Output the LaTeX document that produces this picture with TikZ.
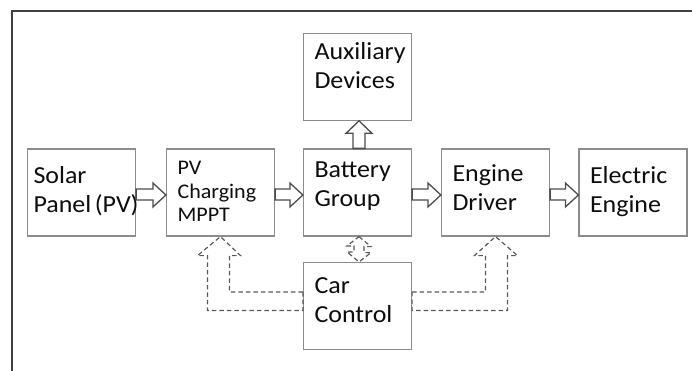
\documentclass[tikz,border=0pt]{standalone}
\usepackage{fontspec}
\setmainfont{Carlito}[FakeStretch = 1.06]
\usetikzlibrary{calc}

\tikzset{
	block/.style = {draw = black!45, line width = 1.2pt, minimum width = 108pt, minimum height = 87pt, text width = 86pt, inner xsep = 11pt, align = left, text = black!95, font = \fontsize{24.5}{29}\selectfont},
	drop/.style = {text height = 10pt, text depth = #1},
	blockarrow/.style = {draw = black!70, line width = 1.3pt, fill = white, line join = miter},
	ctrlarrow/.style = {draw = black!65, line width = 1.2pt, dash pattern = on 4.5pt off 3pt},
	frame/.style = {draw = black!75, line width = 1.8pt}
}

% hollow block arrow from the east side of #1 to the west side of #2
\newcommand{\flowarrow}[2]{%
	\draw [blockarrow] ($(#1.east) + (0, -3.5)$) -- ($(#2.west) + (-13, -3.5)$) -- ($(#2.west) + (-13, -9.5)$) -- ($(#2.west) + (0, 2.5)$) -- ($(#2.west) + (-13, 14.5)$) -- ($(#2.west) + (-13, 7.5)$) -- ($(#1.east) + (0, 7.5)$) -- cycle;%
}

\begin{document}
\begin{tikzpicture}[x = 1pt, y = -1pt]

	\useasboundingbox (0, 0) rectangle (692, 371);

	% Frame
	
	\draw [frame] (12, 371) -- (12, 11) -- (692, 11);
	
	% Blocks
	
	\node [block, drop = 28.4pt, inner xsep = 6pt, text width = 96pt] (solar) at (81.5, 192.5) {Solar\\\mbox{Panel\hspace{3.5pt}(PV)}};
	\node [block, drop = 45pt, font = \fontsize{20.8}{23.5}\selectfont] (mppt) at (220.5, 192.5) {PV\\Charging\\MPPT};
	\node [block, drop = 40.4pt] (battery) at (357.5, 192.5) {Battery\\Group};
	\node [block, drop = 31.6pt] (driver) at (495.5, 192.5) {Engine\\Driver};
	\node [block, drop = 28.4pt] (engine) at (633, 192.5) {Electric\\Engine};
	\node [block, drop = 43.6pt] (aux) at (357.5, 76.75) {Auxiliary\\Devices};
	\node [block, drop = 35.4pt] (control) at (357.5, 306) {Car\\Control};
	
	% Power flow
	
	\flowarrow{solar}{mppt}
	\flowarrow{mppt}{battery}
	\flowarrow{battery}{driver}
	\flowarrow{driver}{engine}
	
	\draw [blockarrow] ($(battery.north) + (-4.5, 0)$) -- ($(aux.south) + (-4.5, 12.5)$) -- ($(aux.south) + (-11.5, 12.5)$) -- ($(aux.south) + (1.5, 0)$) -- ($(aux.south) + (14.5, 12.5)$) -- ($(aux.south) + (7.5, 12.5)$) -- ($(battery.north) + (7.5, 0)$) -- cycle;
	
	% Control signals
	
	\draw [ctrlarrow] ($(control.west) + (0, -14)$) -| ($(mppt.south) + (9, 19)$) -- ++(11, 0) -- (mppt.south) -- ++(-23, 19) -- ++(10, 0) |- ($(control.west) + (0, 4.5)$) -- cycle;
	\draw [ctrlarrow] ($(control.east) + (0, -14)$) -| ($(driver.south) + (-10, 19)$) -- ++(-11, 0) -- (driver.south) -- ++(22, 19) -- ++(-10, 0) |- ($(control.east) + (0, 4.5)$) -- cycle;
	\draw [ctrlarrow] ($(battery.south) + (1.5, 0)$) -- ++(12, 10) -- ++(-7, 0) -- ++(0, 6) -- ++(7, 0) -- ($(control.north) + (1.5, 0)$) -- ++(-12, -10) -- ++(7, 0) -- ++(0, -6) -- ++(-7, 0) -- cycle;

\end{tikzpicture}
\end{document}
